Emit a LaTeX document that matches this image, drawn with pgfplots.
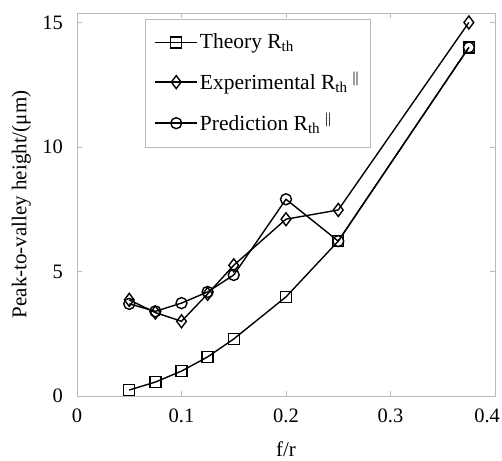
\documentclass[border=0pt]{standalone}
\usepackage{pgfplots}
\pgfplotsset{compat=1.18}
\usepackage{fontspec}
\setmainfont{Liberation Serif}

\begin{document}
\fontsize{21bp}{25bp}\selectfont
\begin{tikzpicture}
\useasboundingbox (-77bp,-65bp) rectangle (425bp,396bp);
\begin{axis}[
    at={(0,0)}, anchor=south west,
    scale only axis,
    width=418bp, height=383bp,
    xmin=0, xmax=0.4, ymin=0, ymax=15.38,
    xtick={0,0.1,0.2,0.3,0.4},
    ytick={0,5,10,15},
    xticklabels={0,0.1,0.2,0.3,{\makebox[0pt][r]{0.4\hspace*{-5bp}}}},
    /pgf/number format/assume math mode=true,
    tick label style={font=\fontsize{20.5bp}{25bp}\selectfont},
    xticklabel style={yshift=-6bp},
    yticklabel style={xshift=-7bp},
    label style={font=\fontsize{21bp}{25bp}\selectfont},
    axis line style={gray!55, line width=0.8pt},
    tick style={gray!55, line width=0.8pt},
    major tick length=5bp,
    tick align=inside,
    xlabel={f/r},
    ylabel={Peak-to-valley height/(μm)},
    every axis x label/.style={at={(axis description cs:0.5,-0.14)}, anchor=center},
    every axis y label/.style={at={(axis description cs:-0.133,0.5)}, anchor=center, rotate=90},
    legend style={at={(0.163,0.984)}, anchor=north west,
        draw=gray!55, line width=0.8pt, fill=white,
        font=\fontsize{21.5bp}{26bp}\selectfont,
        row sep=16bp, inner xsep=9bp, inner ysep=12bp},
    legend cell align=left,
    legend image code/.code={%
        \draw[mark repeat=2, mark phase=2] plot coordinates {(0bp,0bp) (21bp,0bp) (42bp,0bp)};},
    every axis plot/.style={black, line width=1.4pt},
]
% Theory
\addplot[mark=square, mark size=5.5bp, mark options={solid}] coordinates {
    (0.05,0.24)(0.075,0.56)(0.1,1.0)(0.125,1.57)(0.15,2.29)(0.2,3.98)(0.25,6.22)(0.375,14.0)
};
\addlegendentry{Theory R\textsubscript{th}}
% Experimental
\addplot[mark=diamond, mark size=6.5bp] coordinates {
    (0.05,3.86)(0.075,3.35)(0.1,3.0)(0.125,4.1)(0.15,5.25)(0.2,7.1)(0.25,7.47)(0.375,15.0)
};
\addlegendentry{Experimental R\textsubscript{th}\hspace{5bp}\textsuperscript{||}}
% Prediction
\addplot[mark=o, mark size=5.5bp] coordinates {
    (0.05,3.7)(0.075,3.4)(0.1,3.73)(0.125,4.18)(0.15,4.86)(0.2,7.9)(0.25,6.22)(0.375,14.0)
};
\addlegendentry{Prediction R\textsubscript{th}\hspace{5bp}\textsuperscript{||}}
\end{axis}
\end{tikzpicture}
\end{document}
